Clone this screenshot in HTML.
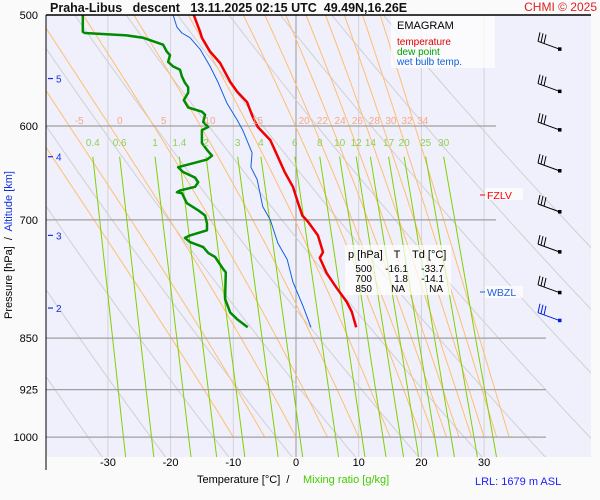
<!DOCTYPE html>
<html><head><meta charset="utf-8"><style>
html,body{margin:0;padding:0;background:#fafafa;}
svg{display:block;font-family:"Liberation Sans",Arial,sans-serif;}
</style></head><body>
<svg id="chart" width="600" height="500" viewBox="0 0 600 500">
<defs><clipPath id="pc"><rect x="46" y="15" width="545" height="442"/></clipPath></defs>
<rect x="46" y="15" width="545" height="442" fill="#f0f0fc"/>
<g id="bg" clip-path="url(#pc)"></g>
<g id="grid"></g>
<g id="prof" clip-path="url(#pc)"></g>
<g id="labels"></g>
<line x1="46" y1="15" x2="591" y2="15" stroke="#000" stroke-width="1.5"/>
<line x1="46" y1="15" x2="46" y2="470" stroke="#000" stroke-width="1"/>
<text x="50" y="12" font-size="12.5" font-weight="bold" fill="#111" xml:space="preserve">Praha-Libus   descent   13.11.2025 02:15 UTC  49.49N,16.26E</text>
<text x="597" y="11" font-size="12" fill="#e02020" text-anchor="end">CHMI © 2025</text>
<g>
<rect x="391" y="16" width="104" height="52" fill="#fff" opacity="0.7"/>
<text x="397" y="29" font-size="11" fill="#000">EMAGRAM</text>
<text x="397" y="45" font-size="10" fill="#e00000">temperature</text>
<text x="397" y="55" font-size="10" fill="#00a000">dew point</text>
<text x="397" y="65" font-size="10" fill="#1060e0">wet bulb temp.</text>
</g>
<g>
<rect x="345" y="245" width="106" height="50" fill="#fff" opacity="0.7"/>
<text x="348" y="258" font-size="11" fill="#000">p [hPa]</text>
<text x="397" y="258" font-size="11" fill="#000" text-anchor="middle">T</text>
<text x="412" y="258" font-size="11" fill="#000">Td [°C]</text>
<text x="372" y="272" font-size="10" text-anchor="end">500</text><text x="408" y="272" font-size="10" text-anchor="end">-16.1</text><text x="444" y="272" font-size="10" text-anchor="end">-33.7</text>
<text x="372" y="282" font-size="10" text-anchor="end">700</text><text x="408" y="282" font-size="10" text-anchor="end">1.8</text><text x="444" y="282" font-size="10" text-anchor="end">-14.1</text>
<text x="372" y="292" font-size="10" text-anchor="end">850</text><text x="405" y="292" font-size="10" text-anchor="end">NA</text><text x="443" y="292" font-size="10" text-anchor="end">NA</text>
</g>
<g><rect x="485" y="188" width="38" height="12" fill="#fff" opacity="0.7"/><line x1="480" y1="195" x2="485" y2="195" stroke="#f00"/><text x="487" y="199" font-size="10.5" fill="#f00">FZLV</text></g>
<g><rect x="485" y="286" width="38" height="12" fill="#fff" opacity="0.7"/><line x1="480" y1="292" x2="485" y2="292" stroke="#2060e0"/><text x="487" y="296" font-size="10.5" fill="#2060e0">WBZL</text></g>
<text transform="translate(12,245) rotate(-90)" font-size="11" text-anchor="middle" xml:space="preserve"><tspan fill="#000">Pressure [hPa]  /  </tspan><tspan fill="#1030e0">Altitude [km]</tspan></text>
<text x="197" y="483" font-size="11" fill="#000" xml:space="preserve">Temperature [°C]  /</text>
<text x="303" y="483" font-size="11" fill="#44cc00">Mixing ratio [g/kg]</text>
<text x="475" y="485" font-size="11" fill="#2020ff">LRL: 1679 m ASL</text>
</svg>
<script>
// ---- data ----
const tempP=[500,514,519,531,541,558,567,577,591,601,614,631,647,663,678,695,702,718,738,745,764,783,801,814,835];
const tempT=[-16.3,-15.3,-15.0,-13.7,-12.1,-10.5,-9.4,-7.8,-6.9,-6.1,-4.1,-2.9,-1.8,-0.5,0.2,1.0,1.9,3.5,4.3,3.8,4.9,6.5,8.1,8.9,9.6];
const dewP=[500,514,515,517,519,522,525,531,534,540,544,547,553,559,563,568,575,582,586,589,596,601,604,617,624,630,634,642,647,653,658,663,667,669,670,681,689,695,704,712,718,721,726,732,739,744,759,763,797,815,824,835];
const dewT=[-34.0,-34.0,-33.7,-27.0,-24.4,-22.8,-21.2,-20.6,-20.1,-20.4,-19.6,-18.5,-18.2,-17.7,-17.2,-17.2,-17.9,-17.2,-15.0,-14.5,-14.8,-14.0,-15.0,-15.0,-14.2,-13.4,-14.2,-18.8,-18.0,-16.1,-15.6,-16.1,-18.5,-19.0,-18.2,-17.4,-15.6,-14.5,-14.2,-14.2,-16.9,-17.7,-16.9,-14.8,-14.0,-12.9,-11.6,-11.2,-11.3,-10.5,-9.4,-7.7];
const wbP=[500,510,515,519,529,544,559,578,594,604,627,642,655,685,700,727,747,775,806,835];
const wbT=[-19.6,-19.0,-18.2,-16.9,-15.3,-13.7,-12.4,-11.0,-9.4,-8.5,-7.0,-7.2,-6.2,-5.3,-4.1,-2.9,-1.4,-0.5,1.1,2.4];
const pressureTicks=[500,600,700,850,925,1000];
const tempTicks=[-30,-20,-10,0,10,20,30];
const altTicks=[5,4,3,2];
const altP=[555,631,718,809];
const mixRatios=[0.4,0.6,1,1.4,2,3,4,6,8,10,12,14,17,20,25,30];
const moistT0=[-10,-5,0,5,10,15,20,22,24,26,28,30,32,34];
const moistLabels=[-5,0,5,10,15,20,22,24,26,28,30,32,34];
const dryTheta=[230,240,250,260,270,280,290,300,310,320,330,340,350];
const windP=[529,567,604,646,691,738,789,826];

// ---- axes ----
const xT=t=>296+t*6.27;
const yP=p=>15+609*Math.log(p/500);
const NS='http://www.w3.org/2000/svg';
function mk(tag,at,parent){const e=document.createElementNS(NS,tag);for(const k in at)e.setAttribute(k,at[k]);parent.appendChild(e);return e;}
const bg=document.getElementById('bg'),grid=document.getElementById('grid'),prof=document.getElementById('prof'),lab=document.getElementById('labels');

tempTicks.forEach(t=>{
  const l=mk('line',{x1:xT(t),x2:xT(t),y1:15,y2:457,stroke:t===0?'#999':'#d4d4d4','stroke-width':1},bg);
  
  
  const tx=mk('text',{x:xT(t),y:466,'font-size':11,'text-anchor':'middle',fill:'#000'},lab);
  tx.textContent=t;
  
  
});
dryTheta.forEach(th=>{
  let pts=[];for(let p=480;p<=1040;p+=10){const T=th*Math.pow(p/1000,0.286)-273.15;pts.push(xT(T).toFixed(1)+','+yP(p).toFixed(1));}
  const l=mk('polyline',{points:pts.join(' '),fill:'none',stroke:'#d0d0d0','stroke-width':1},bg);
  
  
});
function esat(T){return 6.112*Math.exp(17.67*T/(T+243.5));}
function moist(T0){
  const Rd=287,cp=1004,Lv=2.5e6,eps=0.622;let T=T0+273.15,p=1000,res=[[p,T-273.15]];
  while(p>490){const dp=-2;const es=esat(T-273.15);const rs=eps*es/(p-es);
    const dTdp=(Rd*T+Lv*rs)/(p*(cp+Lv*Lv*rs*eps/(Rd*T*T)));T+=dTdp*dp;p+=dp;res.push([p,T-273.15]);}
  return res;}
const moistCurves={};
moistT0.forEach(t0=>{
  const c=moist(t0);moistCurves[t0]=c;
  const l=mk('polyline',{points:c.map(a=>xT(a[1]).toFixed(1)+','+yP(a[0]).toFixed(1)).join(' '),fill:'none',stroke:'#ffbe70','stroke-width':1},bg);
  
  
});
moistLabels.forEach(t0=>{
  const c=moistCurves[t0];let T600=c.find(a=>a[0]<=606)[1];
  const tx=mk('text',{x:xT(T600)+6,y:124,'font-size':10,'text-anchor':'middle',fill:'#f8a888'},lab);
  tx.textContent=t0;
  
  
});
function tdFromW(w,p){const e=w*p/(622+w);const l=Math.log(e/6.112);return 243.5*l/(17.67-l);}
mixRatios.forEach(w=>{
  const l=mk('line',{x1:xT(tdFromW(w,631)),y1:yP(631),x2:xT(tdFromW(w,1033)),y2:457,stroke:'#80d000','stroke-width':1},bg);
  
  
  const tx=mk('text',{x:xT(tdFromW(w,631)),y:146,'font-size':10,'text-anchor':'middle',fill:'#90d050'},lab);
  tx.textContent=w;
  
  
});
pressureTicks.forEach(p=>{
  const x2=p<=700?496:546;
  if(p>500){const l=mk('line',{x1:46,x2:x2,y1:yP(p),y2:yP(p),stroke:'#a0a0a0','stroke-width':1.2},grid);
  
  }
  const tx=mk('text',{x:38,y:yP(p)+4,'font-size':11,'text-anchor':'end',fill:'#000'},lab);
  tx.textContent=p;
  
  
});
altTicks.forEach((a,i)=>{
  const y=yP(altP[i]);
  const l=mk('line',{x1:48,x2:53,y1:y,y2:y,stroke:'#1030e0','stroke-width':1.2},lab);
  
  
  const tx=mk('text',{x:56,y:y+4,'font-size':10,fill:'#1030e0'},lab);
  tx.textContent=a;
  
  
});
function prof_(P,T,col,w,name){
  const l=mk('polyline',{points:P.map((p,i)=>xT(T[i]).toFixed(1)+','+yP(p).toFixed(1)).join(' '),fill:'none',stroke:col,'stroke-width':w,'stroke-linejoin':'round'},prof);
  
  
}
prof_(wbP,wbT,'#1060e0',1,'wet-bulb-line');
prof_(dewP,dewT,'#008c00',2.5,'dew-point-line');
prof_(tempP,tempT,'#f00000',2.5,'temperature-line');
windP.forEach((p,i)=>{
  const y=yP(p),col=i===windP.length-1?'#0020e0':'#000';
  const g=mk('g',{stroke:col,'stroke-width':1,fill:'none'},lab);
  
  
  mk('line',{x1:560,y1:y,x2:538,y2:y-8},g);
  [0,3,6].forEach(o=>mk('line',{x1:538+o,y1:y-8+o*0.36,x2:540+o,y2:y-17+o*0.36},g));
  mk('rect',{x:558,y:y-2,width:3.5,height:3.5,fill:col,stroke:'none'},g);
});
</script>
</body></html>
